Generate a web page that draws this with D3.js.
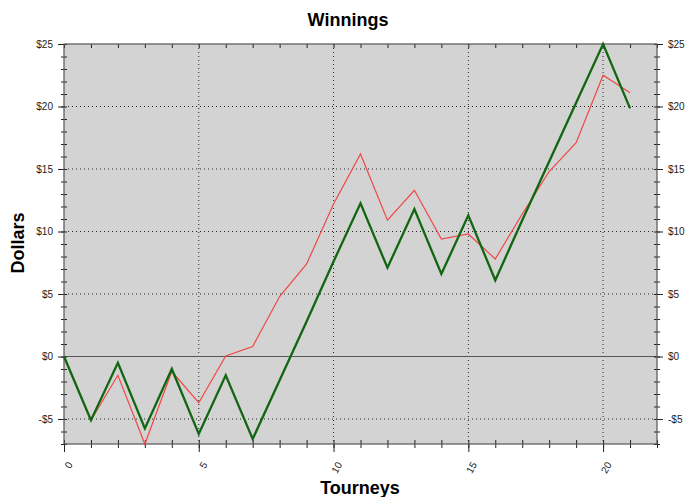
<!DOCTYPE html>
<html>
<head>
<meta charset="utf-8">
<script src="https://cdn.jsdelivr.net/npm/d3@7"></script>
<style>
  body { margin: 0; background: #fff; }
  svg { display: block; font-family: Arial, "Liberation Sans", sans-serif; }
  .tick text { fill: #222; font-size: 10px; }
</style>
</head>
<body>
<script>
// tourney index and the two series
const tourneys = [0, 1, 2, 3, 4, 5, 6, 7, 8, 9, 10, 11, 12, 13, 14, 15, 16, 17, 18, 19, 20, 21];
const greenVals = [0, -5.1, -0.5, -5.75, -1, -6.2, -1.5, -6.6, -1.9, 2.8, 7.6, 12.25, 7.1, 11.8, 6.6, 11.3, 6.1, 10.9, 15.6, 20.3, 25, 19.85];
const redVals = [0, -5.1, -1.5, -7, -1.2, -3.7, 0.05, 0.8, 4.8, 7.4, 12.2, 16.2, 10.9, 13.3, 9.4, 9.8, 7.8, 11.4, 14.8, 17.1, 22.5, 21.1];
const xMajor = [0, 5, 10, 15, 20];
const yMajor = [-5, 0, 5, 10, 15, 20, 25];

const w = 700, h = 497;
const margin = { top: 44, right: 43, bottom: 53, left: 64 };

const svg = d3.select('body').append('svg')
  .attr('width', w).attr('height', h);

const xScale = d3.scaleLinear().domain([0, 22]).range([margin.left, w - margin.right]);
const yScale = d3.scaleLinear().domain([-7, 25]).range([h - margin.bottom, margin.top]);

//plot background
svg.append('rect')
  .attr('x', xScale(0)).attr('y', yScale(25))
  .attr('width', xScale(22) - xScale(0)).attr('height', yScale(-7) - yScale(25))
  .attr('fill', '#d3d3d3');

//grid lines
svg.append('g').selectAll('line').data(yMajor.filter(v => v !== 0 && v !== 25)).enter()
  .append('line')
  .attr('x1', xScale(0)).attr('x2', xScale(22))
  .attr('y1', d => yScale(d)).attr('y2', d => yScale(d))
  .attr('stroke', '#222').attr('stroke-width', 1).attr('stroke-dasharray', '1,3');
svg.append('g').selectAll('line').data(xMajor.filter(v => v !== 0)).enter()
  .append('line')
  .attr('x1', d => xScale(d)).attr('x2', d => xScale(d))
  .attr('y1', yScale(25)).attr('y2', yScale(-7))
  .attr('stroke', '#222').attr('stroke-width', 1).attr('stroke-dasharray', '1,3');

//zero line
svg.append('line')
  .attr('x1', xScale(0)).attr('x2', xScale(22))
  .attr('y1', yScale(0)).attr('y2', yScale(0))
  .attr('stroke', '#555').attr('stroke-width', 1);

//axes
const minorY = d3.range(-7, 26);
const minorX = d3.range(0, 23);
const money = d => (d < 0 ? '-$' + Math.abs(d) : '$' + d);

const drawY = (axisFn, x) => {
  const g = svg.append('g').attr('transform', `translate(${x},0)`);
  g.call(axisFn(yScale).tickValues(minorY).tickSize(3).tickFormat(''));
  g.selectAll('.tick line').attr('x1', -3).attr('x2', 3).attr('stroke', '#222');
  g.select('.domain').remove();
  const m = svg.append('g').attr('transform', `translate(${x},0)`)
    .call(axisFn(yScale).tickValues(yMajor).tickSize(6).tickPadding(5).tickFormat(money));
  m.select('.domain').remove();
  m.selectAll('.tick line').attr('stroke', '#222');
  m.selectAll('.tick text').attr('fill', '#333');
};
drawY(d3.axisLeft, xScale(0));
drawY(d3.axisRight, xScale(22));

//bottom axis
const gxMinor = svg.append('g').attr('transform', `translate(0,${yScale(-7)})`)
  .call(d3.axisBottom(xScale).tickValues(minorX).tickSize(3).tickFormat(''));
gxMinor.selectAll('.tick line').attr('y1', -4).attr('y2', 4).attr('stroke', '#222');
gxMinor.select('.domain').remove();
const gx = svg.append('g').attr('transform', `translate(0,${yScale(-7)})`)
  .call(d3.axisBottom(xScale).tickValues(xMajor).tickSize(8).tickFormat(d3.format('d')));
gx.select('.domain').remove();
gx.selectAll('.tick line').attr('stroke', '#222');
gx.selectAll('.tick text')
  .attr('text-anchor', 'end')
  .attr('dy', null)
  .attr('fill', '#333')
  .attr('transform', 'translate(-1,15) rotate(-60)')
  .attr('font-size', '9px');

//top axis ticks
const gt = svg.append('g').attr('transform', `translate(0,${yScale(25)})`)
  .call(d3.axisBottom(xScale).tickValues(minorX).tickSize(4).tickFormat(''));
gt.select('.domain').remove();
gt.selectAll('.tick line').attr('stroke', '#222');

//frame
svg.append('rect')
  .attr('x', xScale(0)).attr('y', yScale(25))
  .attr('width', xScale(22) - xScale(0)).attr('height', yScale(-7) - yScale(25))
  .attr('fill', 'none').attr('stroke', '#555').attr('stroke-width', 1.2);

//lines
const line = (vals) => d3.line().x((d, i) => xScale(tourneys[i])).y(d => yScale(d))(vals);
svg.append('path').attr('d', line(redVals))
  .attr('fill', 'none').attr('stroke', '#f04848').attr('stroke-width', 1.2);
svg.append('path').attr('d', line(greenVals))
  .attr('fill', 'none').attr('stroke', '#116611').attr('stroke-width', 2.3)
  .attr('stroke-linejoin', 'miter');

//titles
svg.append('text').attr('x', 348).attr('y', 26).attr('text-anchor', 'middle')
  .attr('font-size', '18px').attr('font-weight', 'bold').text('Winnings');
svg.append('text').attr('transform', 'translate(24,243) rotate(-90)').attr('text-anchor', 'middle')
  .attr('font-size', '18px').attr('font-weight', 'bold').text('Dollars');
svg.append('text').attr('x', 360).attr('y', 494).attr('text-anchor', 'middle')
  .attr('font-size', '18px').attr('font-weight', 'bold').text('Tourneys');
</script>
</body>
</html>
